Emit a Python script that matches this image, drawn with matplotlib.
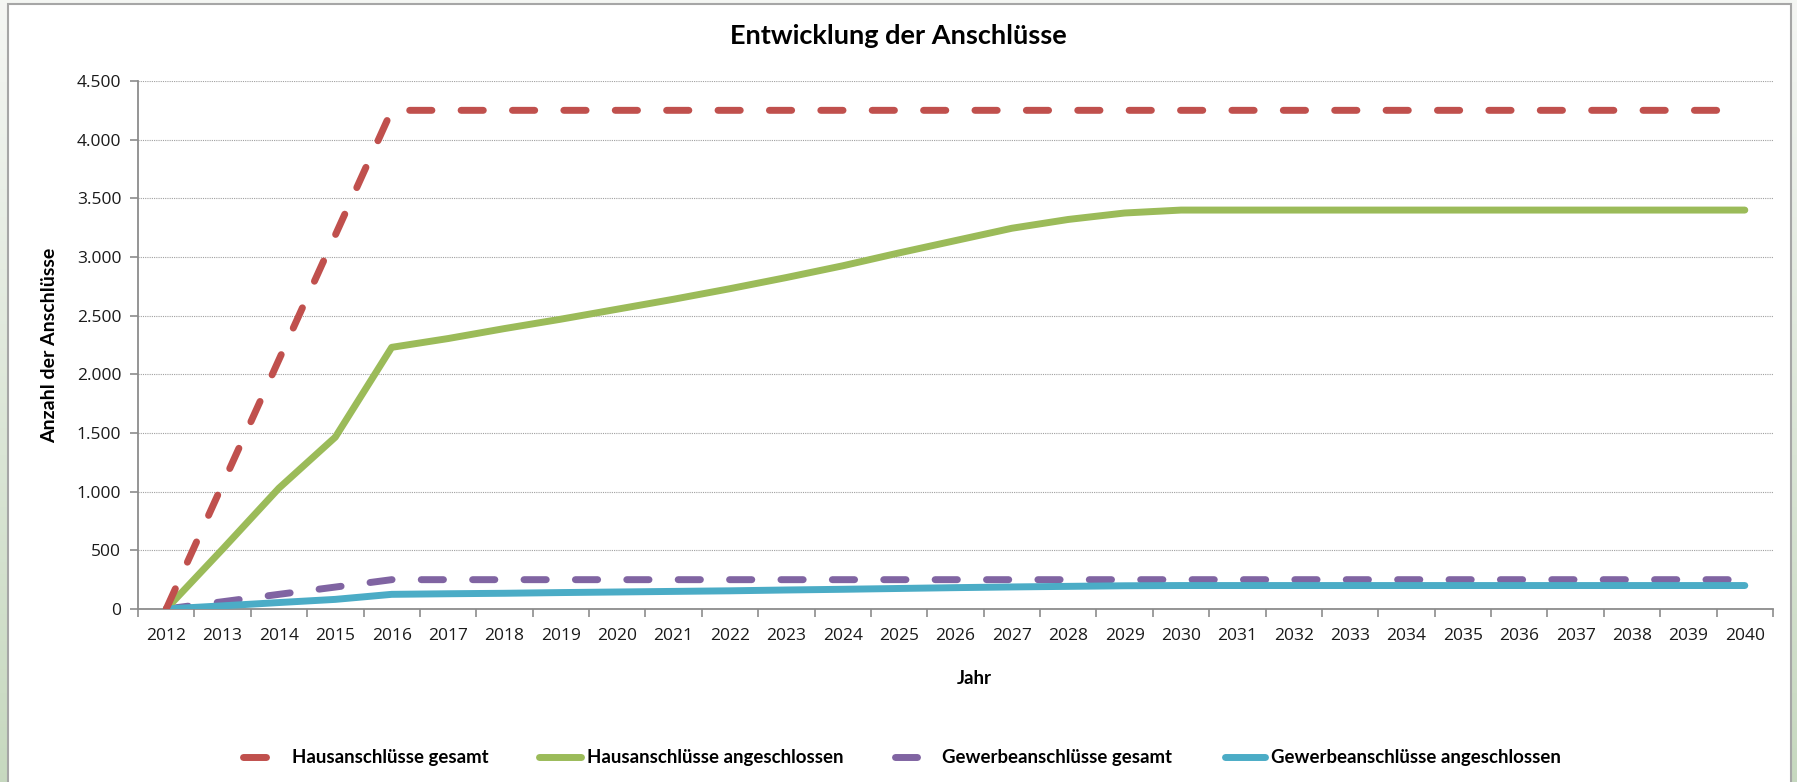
#!/usr/bin/env python3
import matplotlib
matplotlib.use("Agg")
import matplotlib.pyplot as plt
import numpy as np
from matplotlib.lines import Line2D
from matplotlib.patches import Rectangle
from matplotlib.ticker import FuncFormatter, MultipleLocator

# ---------------------------------------------------------------------------
# Data
# ---------------------------------------------------------------------------
YEARS = list(range(2012, 2041))

HAUS_GESAMT = [0, 1062, 2125, 3187, 4250] + [4250] * 24
HAUS_ANGESCHLOSSEN = [0, 510, 1030, 1465, 2230, 2305, 2390, 2470, 2555,
                      2640, 2730, 2825, 2925, 3035, 3140, 3245, 3320, 3375] + [3400] * 11
GEWERBE_GESAMT = [0, 62, 125, 187, 250] + [250] * 24
GEWERBE_ANGESCHLOSSEN = [0, 27, 55, 82, 125, 130, 134, 140, 145, 150, 155,
                         162, 168, 175, 182, 188, 193, 198] + [200] * 11

LABELS = ["Hausanschlüsse gesamt", "Hausanschlüsse angeschlossen",
          "Gewerbeanschlüsse gesamt", "Gewerbeanschlüsse angeschlossen"]
COLORS = ["#C0504D", "#9BBB59", "#8064A2", "#4BACC6"]

TITLE = "Entwicklung der Anschlüsse"
XLABEL = "Jahr"
YLABEL = "Anzahl der Anschlüsse"

W, H = 1797, 782
BOLD_FONT = ["Lato", "DejaVu Sans"]

plt.rcParams["font.family"] = ["Open Sans", "DejaVu Sans"]

fig = plt.figure(figsize=(W / 100, H / 100), dpi=100)

# background: greenish gradient with a white framed chart area
bg = fig.add_axes([0, 0, 1, 1], zorder=-10)
grad = np.linspace(0, 1, 256).reshape(-1, 1)
top = np.array([0.96, 0.965, 0.955])
bot = np.array([0.78, 0.85, 0.75])
img = top + (bot - top) * grad[..., None]
bg.imshow(img, aspect="auto", extent=[0, 1, 0, 1], origin="upper")
bg.set_xlim(0, 1)
bg.set_ylim(0, 1)
bg.axis("off")
bg.add_patch(Rectangle((8 / W, -0.05), (1791 - 8) / W, 1.05 - 4 / H,
                       facecolor="white", edgecolor="#a6a6a6", linewidth=1.5))

ax = fig.add_axes([138 / W, 1 - 609 / H, (1773 - 138) / W, (609 - 81) / H])
ax.set_facecolor("none")

x = np.array(YEARS)
dash = (3.2, 4.2)
ax.plot(x, HAUS_ANGESCHLOSSEN, color=COLORS[1], lw=5, solid_capstyle="round",
        solid_joinstyle="round", zorder=3)
ax.plot(x, GEWERBE_ANGESCHLOSSEN, color=COLORS[3], lw=5, solid_capstyle="round",
        solid_joinstyle="round", zorder=3)
ax.plot(x, HAUS_GESAMT, color=COLORS[0], lw=5, dashes=dash, dash_capstyle="round",
        zorder=4)
ax.plot(x, GEWERBE_GESAMT, color=COLORS[2], lw=5, dashes=dash, dash_capstyle="round",
        zorder=2)

ax.set_xlim(YEARS[0] - 0.5, YEARS[-1] + 0.5)
ax.set_ylim(0, 4500)
ax.set_xticks(x)
ax.set_xticklabels([str(y) for y in YEARS])
ax.set_xticks(np.arange(YEARS[0] - 0.5, YEARS[-1] + 1), minor=True)
ax.tick_params(axis="x", which="major", length=0, pad=14, labelsize=12.5, labelcolor="#1a1a1a")
ax.tick_params(axis="x", which="minor", length=6, color="#8c8c8c", width=1.2)
ax.yaxis.set_major_locator(MultipleLocator(500))
ax.yaxis.set_major_formatter(FuncFormatter(lambda v, p: f"{int(v):,}".replace(",", ".")))
ax.tick_params(axis="y", length=6, color="#8c8c8c", width=1.2, labelsize=12.5,
               labelcolor="#1a1a1a", pad=6)
ax.yaxis.grid(True, linestyle=(0, (1, 1)), color="#a0a0a0", linewidth=0.8)
ax.set_axisbelow(True)
for s in ["top", "right"]:
    ax.spines[s].set_visible(False)
for s in ["left", "bottom"]:
    ax.spines[s].set_color("#8c8c8c")
    ax.spines[s].set_linewidth(1.3)

fig.text(898 / W, 1 - 36 / H, TITLE, ha="center", va="center", fontsize=19.5,
         fontweight="bold", family=BOLD_FONT)
fig.text(50 / W, 1 - 345 / H, YLABEL, ha="center", va="center", rotation=90,
         fontsize=14, fontweight="bold", family=BOLD_FONT)
fig.text(974 / W, 1 - 678 / H, XLABEL, ha="center", va="center",
         fontsize=13.5, fontweight="bold", family=BOLD_FONT)

# legend laid out like the spreadsheet original: short handle, then text
legend_y = 1 - 757 / H
handle_px = [(243, 266), (539, 581), (895, 917), (1225, 1265)]
text_px = [292, 587, 942, 1271]
for (x0, x1), tx, lab, col in zip(handle_px, text_px, LABELS, COLORS):
    fig.add_artist(Line2D([x0 / W, x1 / W], [legend_y, legend_y], transform=fig.transFigure,
                          color=col, lw=5, solid_capstyle="round"))
    fig.text(tx / W, legend_y, lab, ha="left", va="center", fontsize=13.4,
             fontweight="bold", family=BOLD_FONT)

fig.savefig("out.png", dpi=100)
